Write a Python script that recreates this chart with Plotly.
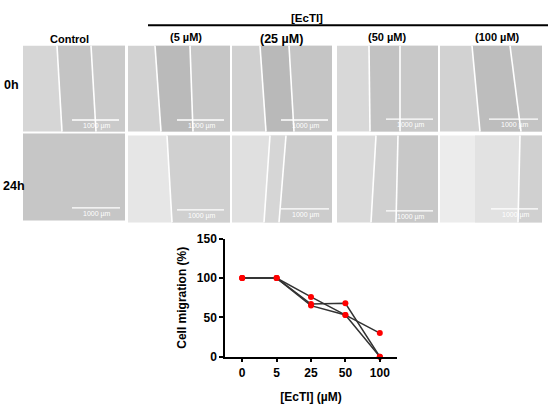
import plotly.graph_objects as go

W, H = 550, 411

# ---- data ----
doses = ["0", "5", "25", "50", "100"]
rep1 = [100, 100, 76, 53, 30]
rep2 = [100, 100, 67, 68, 0]
rep3 = [100, 100, 65, 53, 0]
sig = {"50": "*", "100": "***"}

col_labels = ["Control", "(5 µM)", "(25 µM)", "(50 µM)", "(100 µM)"]
row_labels = ["0h", "24h"]
scale_text = "1000 µm"

FONT = "Arial, Liberation Sans, sans-serif"


def X(px):
    return px / W


def Y(py):
    return 1 - py / H


shapes = []
annos = []


def label(text, px, py, size, color="black", bold=True):
    f = dict(family=FONT, size=size, color=color)
    if bold:
        f["weight"] = "bold"
    annos.append(dict(text=text, xref="paper", yref="paper", x=X(px), y=Y(py),
                      xanchor="center", yanchor="middle", showarrow=False, font=f))


# ---- micrograph panels (approximated as flat gray fields) ----
panels = [
    # row 0h
    dict(x=(23, 125), y=(40, 129), base="#d6d6d6",
         bands=[(57, 62, 91, 96, "#c4c4c4"), (91, 96, 125, 125, "#cacaca")],
         lines=[(57, 62), (91, 96)], bar=(72, 119, 117)),
    dict(x=(128, 230), y=(40, 129), base="#d2d2d2",
         bands=[(155, 161, 190, 193, "#bababa"), (190, 193, 230, 230, "#c6c6c6")],
         lines=[(155, 161), (190, 193)], bar=(177, 224, 117)),
    dict(x=(232, 332), y=(40, 129), base="#d0d0d0",
         bands=[(260, 266, 289, 294, "#b9b9b9"), (289, 294, 332, 332, "#c5c5c5")],
         lines=[(260, 266), (289, 294)], bar=(281, 328, 117)),
    dict(x=(337, 438), y=(40, 129), base="#d8d8d8",
         bands=[(369, 370, 400, 400, "#c2c2c2"), (400, 400, 438, 438, "#c8c8c8")],
         lines=[(369, 370), (400, 400)], bar=(386, 433, 116)),
    dict(x=(440, 542), y=(40, 129), base="#d2d2d2",
         bands=[(472, 480, 510, 521, "#bdbdbd"), (510, 521, 542, 542, "#c4c4c4")],
         lines=[(472, 480), (510, 521)], bar=(489, 538, 116)),
    # row 24h
    dict(x=(23, 125), y=(131, 221), base="#c6c6c6",
         bands=[], lines=[], bar=(72, 120, 208)),
    dict(x=(128, 230), y=(133, 223), base="#e6e6e6",
         bands=[(167, 172, 230, 230, "#d0d0d0")],
         lines=[(167, 172)], bar=(177, 224, 210)),
    dict(x=(232, 332), y=(133, 223), base="#e0e0e0",
         bands=[(270, 264, 286, 279, "#d6d6d6"), (286, 279, 332, 332, "#cccccc")],
         lines=[(270, 264), (286, 279)], bar=(281, 329, 209)),
    dict(x=(337, 438), y=(133, 223), base="#dadada",
         bands=[(376, 371, 398, 396, "#d0d0d0"), (398, 396, 438, 438, "#c8c8c8")],
         lines=[(376, 371), (398, 396)], bar=(386, 433, 211)),
    dict(x=(440, 542), y=(133, 223), base="#ececec",
         bands=[(475, 475, 520, 518, "#e2e2e2"), (520, 518, 542, 542, "#d0d0d0")],
         lines=[(520, 518)], bar=(491, 538, 209)),
]

for p in panels:
    x0, x1 = p["x"]
    y0, y1 = p["y"]
    shapes.append(dict(type="rect", xref="paper", yref="paper",
                       x0=X(x0), x1=X(x1), y0=Y(y1), y1=Y(y0),
                       fillcolor=p["base"], line=dict(width=0), layer="below"))
    for xlt, xlb, xrt, xrb, c in p["bands"]:
        path = (f"M {X(xlt)} {Y(y0)} L {X(xrt)} {Y(y0)} "
                f"L {X(xrb)} {Y(y1)} L {X(xlb)} {Y(y1)} Z")
        shapes.append(dict(type="path", xref="paper", yref="paper", path=path,
                           fillcolor=c, line=dict(width=0), layer="below"))
    for xt, xb in p["lines"]:
        shapes.append(dict(type="line", xref="paper", yref="paper",
                           x0=X(xt), x1=X(xb), y0=Y(y0), y1=Y(y1),
                           line=dict(color="white", width=1.6), layer="below"))
    bx0, bx1, by = p["bar"]
    shapes.append(dict(type="line", xref="paper", yref="paper",
                       x0=X(bx0), x1=X(bx1), y0=Y(by), y1=Y(by),
                       line=dict(color="white", width=1.3), layer="below"))
    label(scale_text, (bx0 + bx1) / 2 + 1, by + 6, 7, color="white", bold=False)

# column / row labels
col_x = [69, 186, 281, 387, 497]
col_y = [33, 31, 33, 31, 31]
col_size = [11, 11, 12.5, 11, 11]
for lab, cx, cy, fs in zip(col_labels, col_x, col_y, col_size):
    label(lab, cx, cy, fs)

label("[EcTI]", 307, 11, 11.5)
shapes.append(dict(type="line", xref="paper", yref="paper",
                   x0=X(148), x1=X(548), y0=Y(19), y1=Y(19),
                   line=dict(color="black", width=2)))

for lab, rx, ry in zip(row_labels, [11, 14], [81, 185]):
    label(lab, rx, ry, 12.5)

# ---- line chart ----
fig = go.Figure()
for rep in (rep1, rep2, rep3):
    fig.add_trace(go.Scatter(
        x=doses, y=rep, mode="lines+markers", cliponaxis=False,
        line=dict(color="#333333", width=1.5),
        marker=dict(color="#ff0000", size=6),
        showlegend=False,
    ))

for d, s in sig.items():
    top = max(r[doses.index(d)] for r in (rep1, rep2, rep3))
    annos.append(dict(text=s, x=d, y=top, xref="x", yref="y", showarrow=False,
                      xanchor="center", yanchor="middle",
                      yshift=13 if s == "*" else 12,
                      font=dict(family=FONT, size=10, color="#333333")))

fig.update_layout(
    width=W, height=H,
    margin=dict(l=0, r=0, t=0, b=0),
    paper_bgcolor="white", plot_bgcolor="white",
    font=dict(family=FONT, color="black"),
    shapes=shapes, annotations=annos,
    xaxis=dict(
        domain=[X(225), X(397)], type="category", range=[-0.5, 4.5],
        showline=True, linecolor="black", linewidth=1.5,
        ticks="outside", ticklen=4, tickwidth=1.5, tickcolor="black",
        tickfont=dict(size=12, weight="bold"), showgrid=False, zeroline=False,
        title=dict(text="[EcTI] (µM)", font=dict(size=12, weight="bold"), standoff=14),
        anchor="y",
    ),
    yaxis=dict(
        domain=[1 - 362 / H, 1 - 240 / H], range=[0, 150],
        tickvals=[0, 50, 100, 150],
        showline=True, linecolor="black", linewidth=1.5,
        ticks="outside", ticklen=4, tickwidth=1.5, tickcolor="black",
        tickfont=dict(size=12, weight="bold"), showgrid=False, zeroline=False,
        title=dict(text="Cell migration (%)", font=dict(size=12, weight="bold"), standoff=8),
        anchor="x",
    ),
)

fig.write_html("out.html", config={"displayModeBar": False},
               post_script="document.body.style.margin='0px';")
